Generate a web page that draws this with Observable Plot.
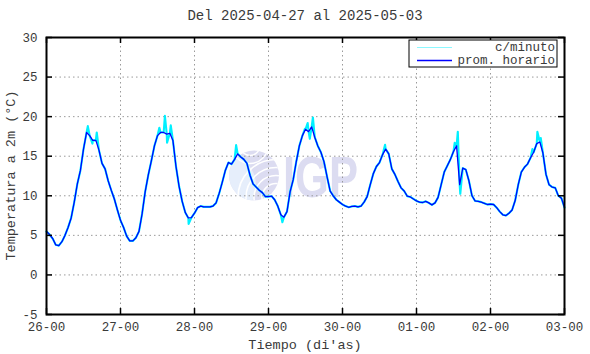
<!DOCTYPE html>
<html><head><meta charset="utf-8">
<script src="https://cdn.jsdelivr.net/npm/d3@7"></script>
<script src="https://cdn.jsdelivr.net/npm/@observablehq/plot@0.6"></script>
<style>body{margin:0;background:#fff} #chart{width:590px;height:354px;position:relative}</style>
</head><body><div id="chart"></div>
<script>
const titleText = "Del 2025-04-27 al 2025-05-03";
const xLabel = "Tiempo (di'as)";
const yLabel = "Temperatura a 2m (°C)";
const dayTicks = [0, 24, 48, 72, 96, 120, 144, 168];
const dayLabels = ["26-00", "27-00", "28-00", "29-00", "30-00", "01-00", "02-00", "03-00"];
const yTicks = [-5, 0, 5, 10, 15, 20, 25, 30];
const seriesNames = ["c/minuto", "prom. horario"];
const seriesColors = ["#00f0ff", "#0000ff"];

// hourly average temperature, one value per hour from 26-00 (h = 0) to 03-00 (h = 168)
const hourlyTemps = [
  5.5, 5.1, 4.6, 3.8, 3.7, 4.2, 5.0, 6.0, 7.2, 9.2, 11.5, 13.2, 15.9, 18.0, 17.6, 17.0, 17.0, 15.8, 14.1, 13.4, 11.9, 10.7, 9.6, 8.2,
  6.9, 6.0, 4.9, 4.3, 4.3, 4.7, 5.5, 7.7, 10.5, 12.6, 14.4, 16.3, 17.6, 18.0, 18.0, 17.8, 17.9, 17.0, 13.7, 11.2, 9.3, 7.9, 7.2, 7.25,
  7.8, 8.5, 8.7, 8.6, 8.6, 8.6, 8.7, 9.1, 10.3, 11.7, 13.2, 14.2, 14.0, 14.6, 15.3, 14.9, 14.6, 14.1, 12.6, 11.5, 11.1, 10.7, 10.4, 9.9,
  9.9, 9.95, 9.5, 8.7, 7.6, 7.3, 8.0, 10.5, 12.0, 14.3, 16.3, 17.6, 18.4, 18.1, 18.7, 17.4, 16.3, 15.5, 14.3, 12.4, 10.6, 10.0, 9.5, 9.2,
  8.9, 8.7, 8.55, 8.65, 8.7, 8.6, 8.7, 9.2, 9.9, 11.4, 12.8, 13.7, 14.2, 15.2, 15.9, 15.3, 13.4, 12.7, 11.8, 11.0, 10.6, 9.95, 9.85, 9.6,
  9.35, 9.2, 9.15, 9.3, 9.1, 8.85, 9.1, 9.8, 11.4, 13.0, 13.8, 14.6, 15.6, 16.3, 11.4, 13.5, 13.3, 11.9, 10.0, 9.35, 9.3, 9.2, 9.05, 8.9,
  8.95, 8.9, 8.5, 8.0, 7.6, 7.5, 7.8, 8.2, 9.4, 11.4, 13.0, 13.6, 14.0, 14.8, 15.5, 16.6, 16.8, 15.4, 12.7, 11.4, 11.1, 11.0, 10.0, 9.7,
  8.5
];
// per-minute readings that stand out from the hourly mean (spikes)
const minuteHours = [13.4, 14.9, 16.3, 36.6, 38.4, 39.1, 40.3, 46.1, 61.5, 76.5, 83.8, 84.7, 85.4, 86.4, 109.8, 132.4, 133.4, 134.2, 157.6, 159.2, 160.3];
const minuteTemps = [18.8, 16.6, 18.0, 18.6, 20.1, 16.7, 18.9, 6.45, 16.4, 6.65, 18.45, 19.2, 17.2, 19.9, 16.45, 16.7, 18.1, 10.25, 15.9, 18.1, 17.3];

const hourly = hourlyTemps.map((t, i) => ({h: i, t}));
const minute = hourly.concat(minuteHours.map((h, i) => ({h, t: minuteTemps[i]}))).sort((a, b) => a.h - b.h);

const W = 590, H = 354, mL = 46, mR = 26, mT = 37, mB = 40;
const fw = W - mL - mR, fh = H - mT - mB;
const mono = "'Liberation Mono', 'DejaVu Sans Mono', monospace";
const textColor = "#3a3a3a";

function watermark() {
  const g = d3.create("svg:g");
  const cx = mL + fw / 2 - 51, cy = mT + fh / 2, r = 25;
  const defs = g.append("defs");
  defs.append("clipPath").attr("id", "wmclip").append("circle").attr("cx", cx).attr("cy", cy).attr("r", r);
  g.append("circle").attr("cx", cx).attr("cy", cy).attr("r", r).attr("fill", "#dcdcf1");
  const c = g.append("g").attr("clip-path", "url(#wmclip)");
  c.append("circle").attr("cx", cx - 30).attr("cy", cy + 10).attr("r", 32).attr("fill", "#e6eefb");
  [14, 22, 30, 38].forEach(rr => c.append("circle").attr("cx", cx + 22).attr("cy", cy + 22).attr("r", rr)
    .attr("fill", "none").attr("stroke", "#fff").attr("stroke-width", 1.6));
  [10, 18].forEach(rr => c.append("circle").attr("cx", cx - 4).attr("cy", cy - 30).attr("r", rr)
    .attr("fill", "none").attr("stroke", "#fff").attr("stroke-width", 1.4));
  g.append("text").attr("x", cx + 29).attr("y", cy + 21).attr("fill", "#dcdcf1").attr("text-anchor", "start")
    .attr("font-family", "'Liberation Sans', Arial, sans-serif").attr("font-weight", "bold")
    .attr("font-size", 57).attr("textLength", 75).attr("lengthAdjust", "spacingAndGlyphs").text("IGP");
  return g.node();
}

function overlay() {
  const g = d3.create("svg:g").attr("font-family", mono).attr("fill", textColor);
  g.append("text").attr("x", mL + fw / 2).attr("y", 16).attr("text-anchor", "middle")
    .attr("dominant-baseline", "central").attr("font-size", 14).text(titleText);
  g.append("text").attr("x", mL + fw / 2).attr("y", 345).attr("text-anchor", "middle")
    .attr("dominant-baseline", "central").attr("font-size", 13.5).text(xLabel);
  g.append("text").attr("transform", `translate(11,${mT + fh / 2}) rotate(-90)`).attr("text-anchor", "middle")
    .attr("dominant-baseline", "central").attr("font-size", 13.5).text(yLabel);
  // legend
  const bx1 = W - mR - 7, bx0 = bx1 - 148, by0 = mT + 3, bh = 27;
  g.append("rect").attr("x", bx0).attr("y", by0).attr("width", bx1 - bx0).attr("height", bh)
    .attr("fill", "#fff").attr("stroke", "#000").attr("stroke-width", 1);
  seriesNames.forEach((name, i) => {
    const yy = by0 + 7.5 + i * 13;
    g.append("line").attr("x1", bx0 + 8).attr("x2", bx0 + 43).attr("y1", yy).attr("y2", yy)
      .attr("stroke", seriesColors[i]).attr("stroke-width", i ? 1.5 : 1.2).attr("stroke-opacity", i ? 1 : 0.45);
    g.append("text").attr("x", bx1 - 2).attr("y", yy).attr("text-anchor", "end")
      .attr("dominant-baseline", "central").attr("font-size", 12.5).text(name);
  });
  return g.node();
}

const chart = Plot.plot({
  width: W, height: H,
  marginLeft: mL, marginRight: mR, marginTop: mT, marginBottom: mB,
  style: {fontFamily: mono, fontSize: "12.5px", color: textColor, background: "transparent", overflow: "visible"},
  x: {domain: [0, 168], axis: null},
  y: {domain: [-5, 30], axis: null},
  marks: [
    watermark,
    Plot.ruleX(dayTicks, {x: d => d, stroke: "#9a9a9a", strokeDasharray: "1.5,3", strokeWidth: 1}),
    Plot.ruleY(yTicks, {y: d => d, stroke: "#9a9a9a", strokeDasharray: "1.5,3", strokeWidth: 1}),
    Plot.line(minute, {x: "h", y: "t", stroke: seriesColors[0], strokeWidth: 2.1}),
    Plot.line(hourly, {x: "h", y: "t", stroke: seriesColors[1], strokeWidth: 1.3}),
    Plot.tickY(yTicks, {y: d => d, insetRight: fw - 6, stroke: "#000", strokeWidth: 1.5}),
    Plot.tickY(yTicks, {y: d => d, insetLeft: fw - 6, stroke: "#000", strokeWidth: 1.5}),
    Plot.tickX(dayTicks, {x: d => d, insetTop: fh - 6, stroke: "#000", strokeWidth: 1.5}),
    Plot.tickX(dayTicks, {x: d => d, insetBottom: fh - 6, stroke: "#000", strokeWidth: 1.5}),
    Plot.frame({stroke: "#000", strokeWidth: 2}),
    Plot.axisX({ticks: dayTicks, tickFormat: d => dayLabels[dayTicks.indexOf(d)], tickSize: 0, tickPadding: 8, label: null, fontSize: 12.5}),
    Plot.axisY({ticks: yTicks, tickFormat: d => String(d), tickSize: 0, tickPadding: 9, label: null, fontSize: 12.5}),
    overlay
  ]
});
document.getElementById("chart").appendChild(chart);
</script>
</body></html>
